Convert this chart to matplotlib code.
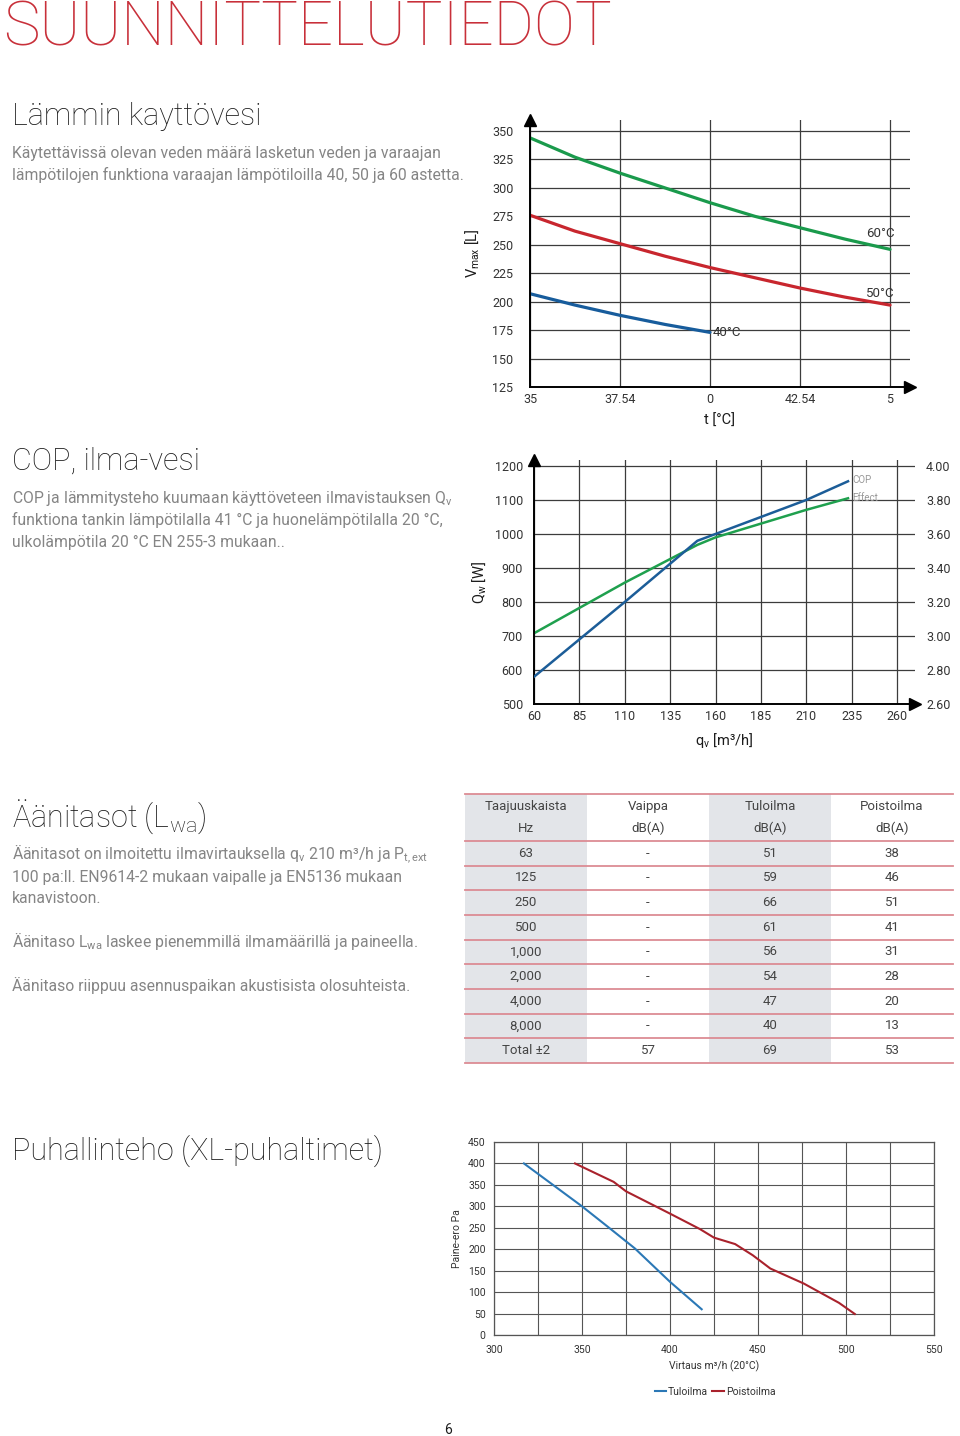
import matplotlib
matplotlib.use('Agg')
import matplotlib.pyplot as plt
from matplotlib.patches import Rectangle

plt.rcParams['font.family'] = ['Roboto', 'DejaVu Sans']
plt.rcParams['mathtext.default'] = 'regular'

# --- hot water chart (x is categorical) ---
t_labels = ['35', '37.54', '0', '42.54', '5']
t_pos = [0, 0.5, 1, 1.5, 2, 2.5, 3, 3.5, 4]
v_60 = [344, 327, 313, 300, 287, 275, 265, 255, 246]
v_50 = [276, 262, 251, 240, 230, 221, 212, 204, 197]
t_pos_40 = [0, 0.5, 1, 1.5, 2]
v_40 = [207, 197, 188, 180, 173]
v_ticks = [125, 150, 175, 200, 225, 250, 275, 300, 325, 350]

# --- COP chart ---
q_ticks = [60, 85, 110, 135, 160, 185, 210, 235, 260]
qw_ticks = [500, 600, 700, 800, 900, 1000, 1100, 1200]
cop_ticks = [2.6, 2.8, 3.0, 3.2, 3.4, 3.6, 3.8, 4.0]
q_effect = [60, 110, 150, 160, 210, 233]
effect_w = [708, 857, 968, 990, 1071, 1105]
q_cop = [60, 110, 150, 160, 210, 233]
cop_val = [2.76, 3.20, 3.56, 3.60, 3.80, 3.91]

# --- noise table ---
tbl_head = [('Taajuuskaista', 'Hz'), ('Vaippa', 'dB(A)'), ('Tuloilma', 'dB(A)'), ('Poistoilma', 'dB(A)')]
bands = ['63', '125', '250', '500', '1,000', '2,000', '4,000', '8,000', 'Total ±2']
vaippa = ['-', '-', '-', '-', '-', '-', '-', '-', '57']
tuloilma_db = [51, 59, 66, 61, 56, 54, 47, 40, 69]
poistoilma_db = [38, 46, 51, 41, 31, 28, 20, 13, 53]

# --- fan chart ---
flow_tulo = [317, 350, 366, 380, 400, 418]
pres_tulo = [400, 300, 248, 202, 124, 60]
flow_poisto = [346, 368, 375, 400, 417, 425, 437, 447, 457, 476, 496, 505]
pres_poisto = [400, 357, 335, 283, 247, 227, 212, 186, 155, 120, 75, 49]

W, H = 960, 1436
fig = plt.figure(figsize=(W / 100, H / 100), dpi=100)


def box(l, t, r, b):
    return [l / W, 1 - b / H, (r - l) / W, (b - t) / H]


def txt(x, y, s, **kw):
    kw.setdefault('va', 'baseline')
    fig.text(x / W, 1 - y / H, s, **kw)


TITLE = '#1c1c1c'
BODY = '#858585'
TICK = '#333333'
GRID = '#3c3c3c'
BODY_FS = 11.3
HEAD_FS = 22

# headings and body text
txt(3, 46, 'SUUNNITTELUTIEDOT', fontsize=44.3, color='#c8303a', fontweight='light')
txt(12, 125, 'Lämmin kayttövesi', fontsize=HEAD_FS, color=TITLE, fontweight='light')
txt(12, 158, 'Käytettävissä olevan veden määrä lasketun veden ja varaajan', fontsize=BODY_FS, color=BODY)
txt(12, 180, 'lämpötilojen funktiona varaajan lämpötiloilla 40, 50 ja 60 astetta.', fontsize=BODY_FS, color=BODY)

txt(12, 470, 'COP, ilma-vesi', fontsize=HEAD_FS, color=TITLE, fontweight='light')
txt(12, 503, 'COP ja lämmitysteho kuumaan käyttöveteen ilmavistauksen Q$_v$', fontsize=BODY_FS, color=BODY)
txt(12, 525, 'funktiona tankin lämpötilalla 41 °C ja huonelämpötilalla 20 °C,', fontsize=BODY_FS, color=BODY)
txt(12, 547, 'ulkolämpötila 20 °C EN 255-3 mukaan..', fontsize=BODY_FS, color=BODY)

txt(12, 827, 'Äänitasot (L$_{wa}$)', fontsize=HEAD_FS, color=TITLE, fontweight='light')
txt(12, 860, 'Äänitasot on ilmoitettu ilmavirtauksella q$_v$ 210 m³/h ja P$_{t,ext}$', fontsize=BODY_FS, color=BODY)
txt(12, 882, '100 pa:ll. EN9614-2 mukaan vaipalle ja EN5136 mukaan', fontsize=BODY_FS, color=BODY)
txt(12, 903, 'kanavistoon.', fontsize=BODY_FS, color=BODY)
txt(12, 947, 'Äänitaso L$_{wa}$ laskee pienemmillä ilmamäärillä ja paineella.', fontsize=BODY_FS, color=BODY)
txt(12, 991, 'Äänitaso riippuu asennuspaikan akustisista olosuhteista.', fontsize=BODY_FS, color=BODY)

txt(12, 1160, 'Puhallinteho (XL-puhaltimet)', fontsize=HEAD_FS, color=TITLE, fontweight='light')
txt(448, 1430, '6', fontsize=10, color=TITLE, ha='center', va='center')

# ---------------- chart 1 ----------------
ax1 = fig.add_axes(box(530, 120, 910, 387))
ax1.set_xlim(0, 4.222)
ax1.set_ylim(125, 359.7)
ax1.set_xticks(range(len(t_labels)))
ax1.set_xticklabels(t_labels)
ax1.set_yticks(v_ticks)
for s in ['top', 'right']:
    ax1.spines[s].set_visible(False)
for s in ['left', 'bottom']:
    ax1.spines[s].set_linewidth(1.4)
    ax1.spines[s].set_color('black')
ax1.grid(True, color=GRID, lw=0.9)
ax1.set_axisbelow(True)
ax1.tick_params(length=0, labelsize=9, labelcolor=TICK)
ax1.tick_params(axis='y', pad=12)
ax1.tick_params(axis='x', pad=4)
ax1.plot(t_pos, v_60, color='#1a9a4c', lw=2.3, solid_capstyle='round', solid_joinstyle='round')
ax1.plot(t_pos, v_50, color='#c8262e', lw=2.3, solid_capstyle='round', solid_joinstyle='round')
ax1.plot(t_pos_40, v_40, color='#175c9c', lw=2.3, solid_capstyle='round', solid_joinstyle='round')
ax1.text(3.73, 257, '60°C', fontsize=9.5, color=TICK)
ax1.text(3.73, 204, '50°C', fontsize=9.5, color=TICK)
ax1.text(2.03, 170, '40°C', fontsize=9.5, color=TICK)
ax1.plot([0], [359.7], marker='^', color='black', ms=8, clip_on=False)
ax1.plot([4.222], [125], marker='>', color='black', ms=8, clip_on=False)
ax1.set_xlabel('t [°C]', fontsize=10.5, color=TITLE, labelpad=6)
ax1.set_ylabel('V$_{max}$ [L]', fontsize=10.5, color=TITLE, labelpad=8)

# ---------------- chart 2 ----------------
ax2 = fig.add_axes(box(534, 460, 915, 704))
ax2.set_xlim(60, 269.9)
ax2.set_ylim(500, 1217.6)
ax2.set_xticks(q_ticks)
ax2.set_yticks(qw_ticks)
for s in ['top', 'right']:
    ax2.spines[s].set_visible(False)
for s in ['left', 'bottom']:
    ax2.spines[s].set_linewidth(1.4)
    ax2.spines[s].set_color('black')
ax2.grid(True, color=GRID, lw=0.9)
ax2.set_axisbelow(True)
ax2.tick_params(length=0, labelsize=9, labelcolor=TICK)
ax2.tick_params(axis='y', pad=8)
ax2.tick_params(axis='x', pad=4)
ax2b = ax2.twinx()
ax2b.set_ylim(2.6, 2.6 + 717.6 / 100 * 0.2)
ax2b.set_yticks(cop_ticks)
ax2b.set_yticklabels(['%.2f' % v for v in cop_ticks])
for s in ax2b.spines.values():
    s.set_visible(False)
ax2b.tick_params(length=0, labelsize=9, labelcolor=TICK, pad=8)
ax2.plot(q_effect, effect_w, color='#1fa04e', lw=1.8)
ax2b.plot(q_cop, cop_val, color='#1c5d98', lw=1.8)
ax2.text(235.5, 1150, 'COP', fontsize=7, color='#999999')
ax2.text(235.5, 1098, 'Effect', fontsize=7, color='#999999')
ax2.plot([60], [1217.6], marker='^', color='black', ms=8, clip_on=False)
ax2.plot([269.9], [500], marker='>', color='black', ms=8, clip_on=False)
ax2.set_xlabel('q$_v$ [m³/h]', fontsize=10.5, color=TITLE, labelpad=6)
ax2.set_ylabel('Q$_w$ [W]', fontsize=10.5, color=TITLE, labelpad=5)

# ---------------- table ----------------
axt = fig.add_axes(box(465, 794, 953, 1063))
head_h = 1.9
n_rows = len(bands)
axt.set_xlim(0, 4)
axt.set_ylim(head_h + n_rows, 0)
axt.axis('off')
for c in (0, 2):
    axt.add_patch(Rectangle((c, 0), 1, head_h + n_rows, color='#e3e5e9', lw=0))
line_y = [0, head_h] + [head_h + i + 1 for i in range(n_rows)]
for y in line_y:
    axt.plot([0, 4], [y, y], color='#dc8c94', lw=1.3, clip_on=False)
for c, (h1, h2) in enumerate(tbl_head):
    axt.text(c + 0.5, 0.5, h1, ha='center', va='center', fontsize=9.5, color='#444444')
    axt.text(c + 0.5, 1.38, h2, ha='center', va='center', fontsize=9.5, color='#444444')
for i in range(n_rows):
    row = [bands[i], vaippa[i], str(tuloilma_db[i]), str(poistoilma_db[i])]
    for c, v in enumerate(row):
        axt.text(c + 0.5, head_h + i + 0.5, v, ha='center', va='center', fontsize=9.5, color='#444444')

# ---------------- chart 3 ----------------
ax3 = fig.add_axes(box(494, 1142, 934, 1335))
ax3.set_xlim(300, 550)
ax3.set_ylim(0, 450)
ax3.set_xticks(range(300, 551, 50))
ax3.set_xticks(range(300, 551, 25), minor=True)
ax3.set_yticks(range(0, 451, 50))
for s in ax3.spines.values():
    s.set_color('#555555')
    s.set_linewidth(0.9)
ax3.grid(True, which='both', color='#555555', lw=0.8)
ax3.set_axisbelow(True)
ax3.tick_params(which='both', length=0, labelsize=7.5, labelcolor=TICK)
ax3.tick_params(axis='y', pad=6)
ax3.tick_params(axis='x', pad=7)
l1, = ax3.plot(flow_tulo, pres_tulo, color='#2b78b6', lw=1.5, label='Tuloilma')
l2, = ax3.plot(flow_poisto, pres_poisto, color='#a9222c', lw=1.5, label='Poistoilma')
ax3.set_xlabel('Virtaus m³/h (20°C)', fontsize=7.5, color=TICK, labelpad=4)
ax3.set_ylabel('Paine-ero Pa', fontsize=7.5, color=TICK, labelpad=4)
fig.legend(handles=[l1, l2], loc='center', bbox_to_anchor=(715 / W, 1 - 1392 / H), ncol=2,
           frameon=False, fontsize=7.5, handlelength=1.1, handletextpad=0.2, columnspacing=0.4,
           labelcolor=TICK)

fig.savefig('out.png', dpi=100)
